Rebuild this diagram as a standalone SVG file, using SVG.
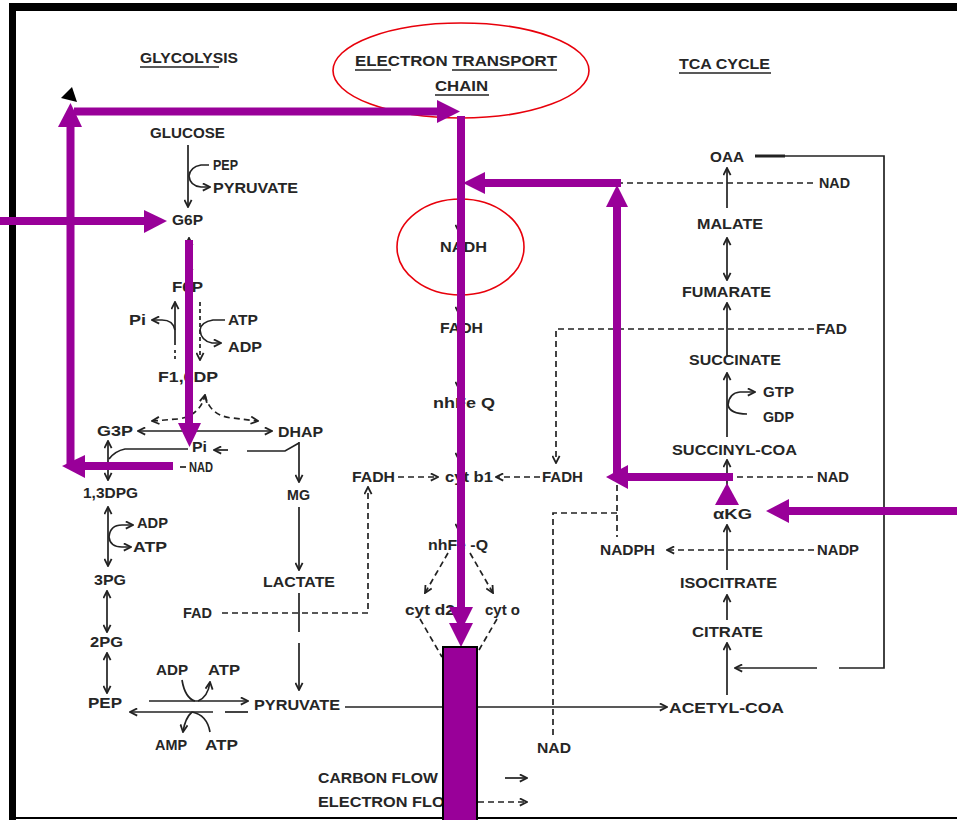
<svg xmlns="http://www.w3.org/2000/svg" width="957" height="820" viewBox="0 0 957 820">
<style>
text{font-family:"Liberation Sans",Arial,sans-serif;font-size:15px;font-weight:bold;fill:#262626}
.t{font-size:15px}
.ln{fill:none;stroke:#222;stroke-width:1.7}
.d{stroke-dasharray:6 4}
.ul{stroke:#222;stroke-width:1.7}
.p{fill:none;stroke:#990099;stroke-width:8}
.ph{fill:#990099}
.red{fill:none;stroke:#e8000b;stroke-width:1.6}
</style>
<defs>
<marker id="a" viewBox="0 0 10 10" refX="9" refY="5" markerWidth="9" markerHeight="9" markerUnits="userSpaceOnUse" orient="auto-start-reverse">
<path d="M1,1 L9,5 L1,9" fill="none" stroke="#222" stroke-width="2"/>
</marker>
</defs>
<rect width="957" height="820" fill="#fff"/>
<g id="frame">
<line x1="9" y1="7" x2="957" y2="7" stroke="#000" stroke-width="8"/>
<line x1="12.5" y1="3" x2="12.5" y2="820" stroke="#000" stroke-width="7"/>
<line x1="9" y1="818" x2="957" y2="818" stroke="#000" stroke-width="2"/>
</g>
<g id="title-glycolysis">
<text class="t" x="140" y="63" textLength="98" lengthAdjust="spacingAndGlyphs">GLYCOLYSIS</text>
<line class="ul" x1="140" y1="67" x2="219" y2="67"/>
</g>
<g id="title-etc">
<ellipse class="red" cx="461" cy="70.5" rx="128" ry="47.5"/>
<text class="t" x="355" y="66" textLength="202" lengthAdjust="spacingAndGlyphs">ELECTRON TRANSPORT</text>
<text class="t" x="435" y="91" textLength="53" lengthAdjust="spacingAndGlyphs">CHAIN</text>
<line class="ul" x1="355" y1="70" x2="391" y2="70"/>
<line class="ul" x1="452" y1="70" x2="557" y2="70"/>
<line class="ul" x1="435" y1="95" x2="489" y2="95"/>
</g>
<g id="title-tca">
<text class="t" x="679" y="69" textLength="91" lengthAdjust="spacingAndGlyphs">TCA CYCLE</text>
<line class="ul" x1="679" y1="73" x2="771" y2="73"/>
</g>
<g id="connectors">
<path class="ln" d="M188,145 L188,207" marker-end="url(#a)"/>
<path class="ln" d="M209,165 L201,165 Q190,167 189,176 Q190,186 201,187 L210,187" marker-end="url(#a)"/>
<path class="ln" d="M189,238 L189,276" marker-start="url(#a)" marker-end="url(#a)"/>
<path class="ln" d="M175,345 L175,302" marker-end="url(#a)"/>
<path class="ln" d="M175,350 L175,362" stroke-dasharray="3 3"/>
<path class="ln" d="M175,330 Q173,320 162,320 L152,320" marker-end="url(#a)"/>
<path class="ln" d="M200,302 L200,360" stroke-dasharray="4 3" marker-end="url(#a)"/>
<path class="ln" d="M225,320 L213,320 Q201,322 200,330 Q201,341 212,343 L221,343" marker-end="url(#a)"/>
<path class="ln d" d="M152,421 L178,419 Q200,416 205,395" marker-start="url(#a)" marker-end="url(#a)"/>
<path class="ln d" d="M205,395 Q210,416 232,418 L258,421" marker-end="url(#a)"/>
<path class="ln" d="M138,431 L272,431" marker-start="url(#a)" marker-end="url(#a)"/>
<path class="ln" d="M188,449 L125,449 Q115,451 109,459"/>
<path class="ln" d="M180,467 L186,467"/>
<path class="ln" d="M228,450 L214,450" marker-end="url(#a)"/>
<path class="ln" d="M299,443 L285,451 L247,451"/>
<path class="ln" d="M299,442 L299,482" marker-end="url(#a)"/>
<path class="ln" d="M108,441 L108,480" marker-start="url(#a)" marker-end="url(#a)"/>
<path class="ln" d="M108,507 L108,566" marker-start="url(#a)" marker-end="url(#a)"/>
<path class="ln" d="M109,537 Q110,525 122,525 L133,525" marker-end="url(#a)"/>
<path class="ln" d="M109,537 Q110,547 122,547 L131,547" marker-end="url(#a)"/>
<path class="ln" d="M107,591 L107,632" marker-start="url(#a)" marker-end="url(#a)"/>
<path class="ln" d="M107,653 L107,693" marker-start="url(#a)" marker-end="url(#a)"/>
<path class="ln" d="M149,701 L248,701" marker-end="url(#a)"/>
<path class="ln" d="M248,712 L225,712"/>
<path class="ln" d="M213,712 L130,712" marker-end="url(#a)"/>
<path class="ln" d="M182,680 Q185,698 195,701"/>
<path class="ln" d="M198,701 Q208,697 210,682" marker-end="url(#a)"/>
<path class="ln" d="M192,712 Q185,718 183,732" marker-end="url(#a)"/>
<path class="ln" d="M192,712 Q207,715 210,732"/>
<path class="ln" d="M299,507 L299,570" marker-end="url(#a)"/>
<path class="ln" d="M299,593 L299,632"/>
<path class="ln" d="M299,643 L299,690" marker-end="url(#a)"/>
<path class="ln d" d="M222,613 L368,613 L368,487" marker-end="url(#a)"/>
<path class="ln d" d="M398,477 L438,477" marker-end="url(#a)"/>
<path class="ln d" d="M540,477 L496,477" marker-end="url(#a)"/>
<path class="ln" d="M459,216 L459,232" marker-end="url(#a)"/>
<path class="ln" d="M459,298 L459,314" marker-end="url(#a)"/>
<path class="ln" d="M459,372 L459,389" marker-end="url(#a)"/>
<path class="ln" d="M459,442 L459,460" marker-end="url(#a)"/>
<path class="ln" d="M459,515 L459,531" marker-end="url(#a)"/>
<path class="ln d" d="M448,553 L425,593" marker-end="url(#a)"/>
<path class="ln d" d="M470,553 L493,593" marker-end="url(#a)"/>
<path class="ln d" d="M420,619 L442,657"/>
<path class="ln d" d="M497,619 L479,650"/>
<path class="ln" d="M345,707 L667,707" marker-end="url(#a)"/>
<path class="ln" d="M505,778 L527,778" marker-end="url(#a)"/>
<path class="ln d" d="M478,802 L527,802" marker-end="url(#a)"/>
<path class="ln d" d="M617,485 L617,537"/>
<path class="ln d" d="M617,513 L553,513 L553,737"/>
<path class="ln d" d="M814,550 L667,550" marker-end="url(#a)"/>
<path class="ln" d="M727,570 L727,525" marker-end="url(#a)"/>
<path class="ln" d="M727,620 L727,595" marker-end="url(#a)"/>
<path class="ln" d="M727,695 L727,643" marker-end="url(#a)"/>
<path class="ln" d="M755,156 L884,156 L884,668 L839,668"/>
<line x1="755" y1="156" x2="785" y2="156" stroke="#222" stroke-width="3"/>
<path class="ln" d="M817,668 L735,668" marker-end="url(#a)"/>
<path class="ln" d="M727,208 L727,168" marker-end="url(#a)"/>
<path class="ln d" d="M617,183 L815,183"/>
<path class="ln" d="M727,238 L727,280" marker-start="url(#a)" marker-end="url(#a)"/>
<path class="ln" d="M727,357 L727,303" marker-end="url(#a)"/>
<path class="ln d" d="M814,329 L556,329 L556,463" marker-end="url(#a)"/>
<path class="ln" d="M727,437 L727,373" marker-end="url(#a)"/>
<path class="ln" d="M728,405 Q729,393 740,392 L755,392" marker-end="url(#a)"/>
<path class="ln" d="M728,405 Q730,414 747,414"/>
<path class="ln" d="M727,497 L727,460" marker-end="url(#a)"/>
<path class="ln d" d="M727,477 L814,477"/>
</g>
<g id="n-glucose"><text x="150" y="138" textLength="75" lengthAdjust="spacingAndGlyphs">GLUCOSE</text></g>
<g id="n-pep1"><text x="213" y="170" textLength="25" lengthAdjust="spacingAndGlyphs">PEP</text></g>
<g id="n-pyr1"><text x="213" y="193" textLength="85" lengthAdjust="spacingAndGlyphs">PYRUVATE</text></g>
<g id="n-g6p"><text x="172" y="225" textLength="31" lengthAdjust="spacingAndGlyphs">G6P</text></g>
<g id="n-f6p"><text x="172" y="292" textLength="31" lengthAdjust="spacingAndGlyphs">F6P</text></g>
<g id="n-pi1"><text x="129" y="325" textLength="17" lengthAdjust="spacingAndGlyphs">Pi</text></g>
<g id="n-atp1"><text x="228" y="325" textLength="30" lengthAdjust="spacingAndGlyphs">ATP</text></g>
<g id="n-adp1"><text x="228" y="352" textLength="34" lengthAdjust="spacingAndGlyphs">ADP</text></g>
<g id="n-f16dp"><text x="158" y="382" textLength="60" lengthAdjust="spacingAndGlyphs">F1,6DP</text></g>
<g id="n-g3p"><text x="97" y="436" textLength="36" lengthAdjust="spacingAndGlyphs">G3P</text></g>
<g id="n-dhap"><text x="278" y="437" textLength="45" lengthAdjust="spacingAndGlyphs">DHAP</text></g>
<g id="n-pi2"><text x="192" y="452" textLength="15" lengthAdjust="spacingAndGlyphs">Pi</text></g>
<g id="n-nad1"><text x="189" y="472" textLength="24" lengthAdjust="spacingAndGlyphs">NAD</text></g>
<g id="n-13dpg"><text x="83" y="498" textLength="55" lengthAdjust="spacingAndGlyphs">1,3DPG</text></g>
<g id="n-adp2"><text x="137" y="528" textLength="31" lengthAdjust="spacingAndGlyphs">ADP</text></g>
<g id="n-atp2"><text x="133" y="552" textLength="34" lengthAdjust="spacingAndGlyphs">ATP</text></g>
<g id="n-3pg"><text x="94" y="585" textLength="32" lengthAdjust="spacingAndGlyphs">3PG</text></g>
<g id="n-2pg"><text x="90" y="647" textLength="33" lengthAdjust="spacingAndGlyphs">2PG</text></g>
<g id="n-pep2"><text x="88" y="708" textLength="34" lengthAdjust="spacingAndGlyphs">PEP</text></g>
<g id="n-adp3"><text x="156" y="675" textLength="32" lengthAdjust="spacingAndGlyphs">ADP</text></g>
<g id="n-atp3"><text x="208" y="675" textLength="32" lengthAdjust="spacingAndGlyphs">ATP</text></g>
<g id="n-amp"><text x="155" y="750" textLength="32" lengthAdjust="spacingAndGlyphs">AMP</text></g>
<g id="n-atp4"><text x="205" y="750" textLength="33" lengthAdjust="spacingAndGlyphs">ATP</text></g>
<g id="n-pyr2"><text x="254" y="710" textLength="86" lengthAdjust="spacingAndGlyphs">PYRUVATE</text></g>
<g id="n-mg"><text x="287" y="500" textLength="23" lengthAdjust="spacingAndGlyphs">MG</text></g>
<g id="n-lactate"><text x="263" y="587" textLength="72" lengthAdjust="spacingAndGlyphs">LACTATE</text></g>
<g id="n-fad1"><text x="183" y="618" textLength="29" lengthAdjust="spacingAndGlyphs">FAD</text></g>
<g id="n-nadh"><ellipse class="red" cx="460.5" cy="247" rx="63.5" ry="48"/><text x="440" y="252" textLength="47" lengthAdjust="spacingAndGlyphs">NADH</text></g>
<g id="n-fadh-mid"><text x="440" y="333" textLength="43" lengthAdjust="spacingAndGlyphs">FADH</text></g>
<g id="n-nhfeq1"><text x="433" y="408" textLength="62" lengthAdjust="spacingAndGlyphs">nhFe  Q</text></g>
<g id="n-fadh-l"><text x="352" y="482" textLength="43" lengthAdjust="spacingAndGlyphs">FADH</text></g>
<g id="n-cytb1"><text x="445" y="482" textLength="48" lengthAdjust="spacingAndGlyphs">cyt b1</text></g>
<g id="n-fadh-r"><text x="542" y="482" textLength="41" lengthAdjust="spacingAndGlyphs">FADH</text></g>
<g id="n-nhfeq2"><text x="428" y="550" textLength="60" lengthAdjust="spacingAndGlyphs">nhFe -Q</text></g>
<g id="n-cytd2"><text x="405" y="615" textLength="50" lengthAdjust="spacingAndGlyphs">cyt d2</text></g>
<g id="n-cyto"><text x="485" y="615" textLength="35" lengthAdjust="spacingAndGlyphs">cyt o</text></g>
<g id="n-nad-b"><text x="537" y="753" textLength="34" lengthAdjust="spacingAndGlyphs">NAD</text></g>
<g id="legend">
<text x="318" y="783" textLength="120" lengthAdjust="spacingAndGlyphs">CARBON FLOW</text>
<text x="318" y="807" textLength="142" lengthAdjust="spacingAndGlyphs">ELECTRON FLOW</text>
</g>
<g id="n-oaa"><text x="710" y="162" textLength="34" lengthAdjust="spacingAndGlyphs">OAA</text></g>
<g id="n-nad-t"><text x="819" y="188" textLength="31" lengthAdjust="spacingAndGlyphs">NAD</text></g>
<g id="n-malate"><text x="697" y="229" textLength="66" lengthAdjust="spacingAndGlyphs">MALATE</text></g>
<g id="n-fumarate"><text x="682" y="297" textLength="89" lengthAdjust="spacingAndGlyphs">FUMARATE</text></g>
<g id="n-fad2"><text x="816" y="334" textLength="31" lengthAdjust="spacingAndGlyphs">FAD</text></g>
<g id="n-succinate"><text x="689" y="365" textLength="92" lengthAdjust="spacingAndGlyphs">SUCCINATE</text></g>
<g id="n-gtp"><text x="763" y="397" textLength="31" lengthAdjust="spacingAndGlyphs">GTP</text></g>
<g id="n-gdp"><text x="763" y="422" textLength="31" lengthAdjust="spacingAndGlyphs">GDP</text></g>
<g id="n-succoa"><text x="672" y="455" textLength="125" lengthAdjust="spacingAndGlyphs">SUCCINYL-COA</text></g>
<g id="n-nad-m"><text x="817" y="482" textLength="32" lengthAdjust="spacingAndGlyphs">NAD</text></g>
<g id="n-akg"><text x="713" y="519" textLength="39" lengthAdjust="spacingAndGlyphs">αKG</text></g>
<g id="n-nadph"><text x="600" y="555" textLength="55" lengthAdjust="spacingAndGlyphs">NADPH</text></g>
<g id="n-nadp"><text x="817" y="555" textLength="42" lengthAdjust="spacingAndGlyphs">NADP</text></g>
<g id="n-isocitrate"><text x="680" y="588" textLength="97" lengthAdjust="spacingAndGlyphs">ISOCITRATE</text></g>
<g id="n-citrate"><text x="692" y="637" textLength="71" lengthAdjust="spacingAndGlyphs">CITRATE</text></g>
<g id="n-acetylcoa"><text x="669" y="713" textLength="115" lengthAdjust="spacingAndGlyphs">ACETYL-COA</text></g>
<g id="overlay">
<polygon points="61,98 72,87 77,102" fill="#000"/>
<line class="p" x1="70.5" y1="465" x2="70.5" y2="125"/>
<polygon class="ph" points="58,127 82,127 70.5,103"/>
<line class="p" x1="74" y1="111.5" x2="439" y2="111.5"/>
<polygon class="ph" points="437,100 437,123 460,111.5"/>
<line class="p" x1="461" y1="116" x2="461" y2="609"/>
<polygon class="ph" points="449,607 473,607 461,631"/>
<polygon class="ph" points="449,623 473,623 461,647"/>
<line class="p" x1="621" y1="183" x2="483" y2="183"/>
<polygon class="ph" points="485,172 485,194 463,183"/>
<line class="p" x1="617" y1="481" x2="617" y2="205"/>
<polygon class="ph" points="606,207 628,207 617,185"/>
<line class="p" x1="733" y1="477" x2="626" y2="477"/>
<polygon class="ph" points="628,465 628,489 606,477"/>
<polygon class="ph" points="715,505 739,505 727,483"/>
<line class="p" x1="957" y1="511" x2="787" y2="511"/>
<polygon class="ph" points="789,499 789,523 766,511"/>
<line class="p" x1="0" y1="221" x2="146" y2="221"/>
<polygon class="ph" points="144,210 144,233 167,221"/>
<line class="p" x1="189" y1="240" x2="189" y2="425"/>
<polygon class="ph" points="178,423 201,423 189.5,447"/>
<line class="p" x1="173" y1="466" x2="83" y2="466"/>
<polygon class="ph" points="85,455 85,478 62,466"/>
<rect x="443" y="647" width="34" height="180" fill="#990099" stroke="#000" stroke-width="2"/>
</g>
</svg>
